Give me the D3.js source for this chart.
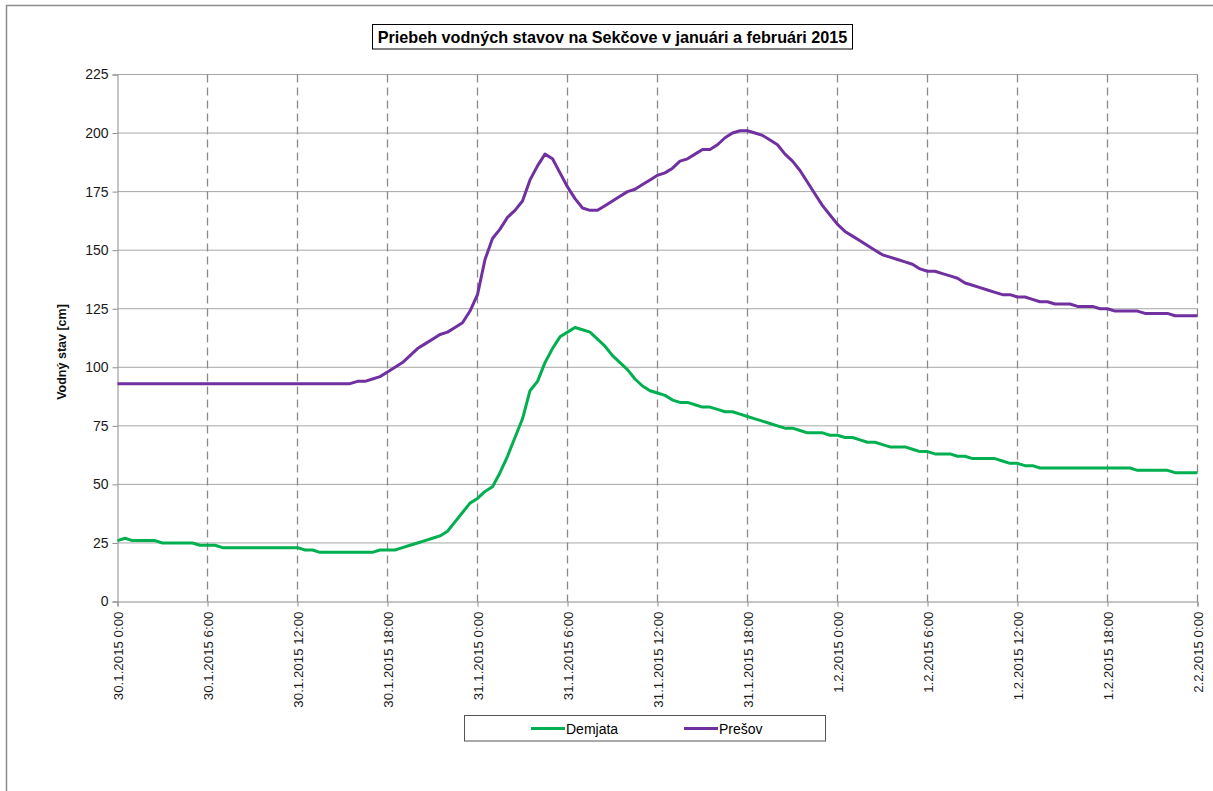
<!DOCTYPE html>
<html>
<head>
<meta charset="utf-8">
<script src="https://cdn.jsdelivr.net/npm/d3@7"></script>
<style>
  html, body { margin: 0; padding: 0; background: #fff; }
  svg { display: block; font-family: Arial, "Liberation Sans", sans-serif; }
</style>
</head>
<body>
<svg id="chart" width="1213" height="791"></svg>
<script>
// Water levels [cm], one reading every 30 minutes from 30.1.2015 0:00 to 2.2.2015 0:00
const stepHours = 0.5;

const demjata = [
  26, 27, 26, 26, 26, 26, 25, 25, 25, 25, 25, 24, 24, 24, 23,
  23, 23, 23, 23, 23, 23, 23, 23, 23, 23,
  22, 22, 21,
  21, 21, 21, 21, 21, 21, 21,
  22, 22, 22, 23, 24, 25, 26, 27, 28, 30, 34, 38, 42, 44, 47, 49,
  55, 62, 70, 78, 90, 94, 102, 108, 113, 115, 117, 116, 115, 112, 109,
  105, 102, 99, 95, 92, 90, 89, 88, 86, 85, 85, 84, 83, 83, 82,
  81, 81, 80, 79, 78, 77, 76, 75, 74, 74, 73, 72, 72, 72, 71,
  71, 70, 70, 69, 68, 68, 67, 66, 66, 66, 65, 64, 64, 63, 63,
  63, 62, 62, 61, 61, 61, 61, 60, 59, 59, 58, 58, 57, 57,
  57, 57, 57, 57, 57, 57, 57, 57, 57, 57, 57,
  56, 56, 56, 56, 56, 55, 55, 55, 55
];

const presov = [
  93, 93, 93, 93, 93, 93, 93, 93, 93, 93, 93, 93, 93, 93, 93, 93,
  93, 93, 93, 93, 93, 93, 93, 93, 93, 93, 93, 93, 93, 93, 93, 93,
  94, 94, 95, 96, 98, 100, 102, 105, 108, 110, 112, 114, 115, 117,
  119, 124, 131, 146, 155, 159, 164, 167, 171, 180, 186, 191, 189,
  183, 177, 172, 168, 167, 167, 169, 171, 173, 175, 176, 178, 180,
  182, 183, 185, 188, 189, 191, 193, 193, 195, 198, 200, 201, 201,
  200, 199, 197, 195, 191, 188, 184, 179, 174, 169, 165, 161, 158,
  156, 154, 152, 150, 148, 147, 146, 145, 144, 142, 141, 141, 140,
  139, 138, 136, 135, 134, 133, 132, 131, 131, 130, 130, 129, 128,
  128, 127, 127, 127, 126, 126, 126, 125, 125, 124, 124, 124, 124,
  123, 123, 123, 123, 122, 122, 122, 122
];

const xTickHours = [0, 6, 12, 18, 24, 30, 36, 42, 48, 54, 60, 66, 72];
const xTickLabels = [
  "30.1.2015 0:00", "30.1.2015 6:00", "30.1.2015 12:00", "30.1.2015 18:00",
  "31.1.2015 0:00", "31.1.2015 6:00", "31.1.2015 12:00", "31.1.2015 18:00",
  "1.2.2015 0:00", "1.2.2015 6:00", "1.2.2015 12:00", "1.2.2015 18:00",
  "2.2.2015 0:00"
];
const yTicks = [0, 25, 50, 75, 100, 125, 150, 175, 200, 225];

const seriesNames = ["Demjata", "Prešov"];
const seriesColors = ["#00b050", "#7030a0"];
const titleText = "Priebeh vodných stavov na Sekčove v januári a februári 2015";
const yTitle = "Vodný stav [cm]";

const svg = d3.select("#chart");

// outer chart frame
svg.append("rect")
  .attr("x", 6.5).attr("y", 5.5)
  .attr("width", 1300).attr("height", 900)
  .attr("fill", "none").attr("stroke", "#8c8c8c").attr("stroke-width", 1.5);

const plot = { left: 117.5, right: 1197.5, top: 74.5, bottom: 601.5 };

const x = d3.scaleLinear().domain([0, 72]).range([plot.left, plot.right]);
const y = d3.scaleLinear().domain([0, 225]).range([plot.bottom, plot.top]);

// horizontal grid
svg.append("g")
  .selectAll("line")
  .data(yTicks.filter(v => v > 0))
  .join("line")
  .attr("x1", plot.left).attr("x2", plot.right)
  .attr("y1", d => y(d)).attr("y2", d => y(d))
  .attr("stroke", "#a6a6a6").attr("stroke-width", 1);

// vertical dashed grid
svg.append("g")
  .selectAll("line")
  .data(xTickHours.filter(v => v > 0))
  .join("line")
  .attr("x1", d => x(d)).attr("x2", d => x(d))
  .attr("y1", plot.top).attr("y2", plot.bottom)
  .attr("stroke", "#8a8a8a").attr("stroke-width", 1.3)
  .attr("stroke-dasharray", "8,5");

// y axis
const yAxis = svg.append("g")
  .attr("transform", `translate(${plot.left},0)`)
  .call(d3.axisLeft(y).tickValues(yTicks).tickSize(5).tickPadding(4));
yAxis.select(".domain").attr("stroke", "#8c8c8c");
yAxis.selectAll(".tick line").attr("stroke", "#8c8c8c");
yAxis.selectAll(".tick text")
  .attr("fill", "#1a1a1a").style("font-size", "14px")
  .style("font-family", "Arial, 'Liberation Sans', sans-serif");

// x axis
const xAxis = svg.append("g")
  .attr("transform", `translate(0,${plot.bottom})`)
  .call(d3.axisBottom(x).tickValues(xTickHours).tickSize(5)
    .tickFormat((d, i) => xTickLabels[i]));
xAxis.select(".domain").attr("stroke", "#8c8c8c");
xAxis.selectAll(".tick line").attr("stroke", "#8c8c8c");
xAxis.selectAll(".tick text")
  .attr("fill", "#1a1a1a").style("font-size", "13.3px")
  .style("font-family", "Arial, 'Liberation Sans', sans-serif")
  .attr("text-anchor", "end")
  .attr("transform", "rotate(-90)")
  .attr("x", -10).attr("y", 0).attr("dy", "0.35em");

// y axis title
svg.append("text")
  .attr("transform", `translate(66,${(plot.top + plot.bottom) / 2 + 14}) rotate(-90)`)
  .attr("text-anchor", "middle")
  .style("font-size", "12.5px").style("font-weight", "bold")
  .attr("fill", "#111")
  .text(yTitle);

// series lines
const line = d3.line()
  .x((d, i) => x(i * stepHours))
  .y(d => y(d));

[demjata, presov].forEach((vals, k) => {
  svg.append("path")
    .datum(vals)
    .attr("fill", "none")
    .attr("stroke", seriesColors[k])
    .attr("stroke-width", 3)
    .attr("stroke-linejoin", "round")
    .attr("d", line);
});

// title box
const titleG = svg.append("g");
titleG.append("rect")
  .attr("x", 372.5).attr("y", 24.5).attr("width", 480).attr("height", 24.5)
  .attr("fill", "#fff").attr("stroke", "#000").attr("stroke-width", 1);
titleG.append("text")
  .attr("x", 612.5).attr("y", 42.5)
  .attr("text-anchor", "middle")
  .style("font-size", "16.2px").style("font-weight", "bold")
  .attr("fill", "#000")
  .text(titleText);

// legend
const legend = svg.append("g");
legend.append("rect")
  .attr("x", 464.5).attr("y", 715.5).attr("width", 361).attr("height", 25.5)
  .attr("fill", "#fff").attr("stroke", "#555").attr("stroke-width", 1);
const legendX = [531, 684];
seriesNames.forEach((name, k) => {
  legend.append("line")
    .attr("x1", legendX[k]).attr("x2", legendX[k] + 34)
    .attr("y1", 728.5).attr("y2", 728.5)
    .attr("stroke", seriesColors[k]).attr("stroke-width", 3);
  legend.append("text")
    .attr("x", legendX[k] + 35).attr("y", 733.5)
    .style("font-size", "14px").attr("fill", "#000")
    .text(name);
});
</script>
</body>
</html>
